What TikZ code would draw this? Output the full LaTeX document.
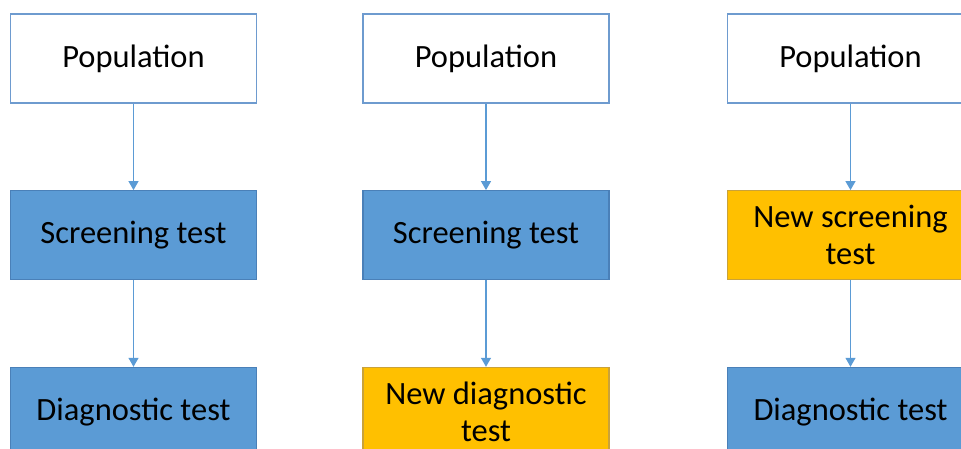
\documentclass[tikz,border=0pt]{standalone}
\usepackage{fontspec}
\setmainfont{Carlito}
\usepackage{xcolor}
\usepackage{tikz}
\usetikzlibrary{arrows.meta,positioning}

\definecolor{popline}{HTML}{6E9BCF}
\definecolor{bluefill}{HTML}{5B9BD5}
\definecolor{blueline}{HTML}{4A80B8}
\definecolor{yellowfill}{HTML}{FFC000}
\definecolor{yellowline}{HTML}{C9A23A}
\definecolor{arrowcol}{HTML}{5B9BD5}

\begin{document}
\begin{tikzpicture}[
    node distance=86.5pt,
    popbox/.style={rectangle, draw=popline, fill=white, line width=1.2pt, minimum width=246pt, minimum height=89pt, text centered, align=center, font=\fontsize{32.5}{37}\selectfont},
    testbox/.style={popbox, draw=blueline, fill=bluefill},
    newbox/.style={popbox, draw=yellowline, fill=yellowfill},
    arrow/.style={-{Triangle[width=10pt,length=9pt]}, draw=arrowcol, line width=1.2pt}
]
    \useasboundingbox (0,0) rectangle (961pt,-449pt);
    \clip (0,0) rectangle (961pt,-449pt);

    % Populations (top row)
    \node[popbox] (pop1) at (133.5pt,-58.5pt) {Population};
    \node[popbox] (pop2) at (486pt,-58.5pt) {Population};
    \node[popbox] (pop3) at (850.5pt,-58.5pt) {Population};

    % Screening tests (middle row)
    \node[testbox, below=of pop1] (screen1) {Screening test};
    \node[testbox, below=of pop2] (screen2) {Screening test};
    \node[newbox, below=of pop3] (screen3) {New screening\\test};

    % Diagnostic tests (bottom row)
    \node[testbox, below=of screen1] (diag1) {Diagnostic test};
    \node[newbox, below=of screen2] (diag2) {New diagnostic\\test};
    \node[testbox, below=of screen3] (diag3) {Diagnostic test};

    % Arrows
    \draw[arrow] (pop1) -- (screen1);
    \draw[arrow] (pop2) -- (screen2);
    \draw[arrow] (pop3) -- (screen3);
    \draw[arrow] (screen1) -- (diag1);
    \draw[arrow] (screen2) -- (diag2);
    \draw[arrow] (screen3) -- (diag3);

\end{tikzpicture}
\end{document}
